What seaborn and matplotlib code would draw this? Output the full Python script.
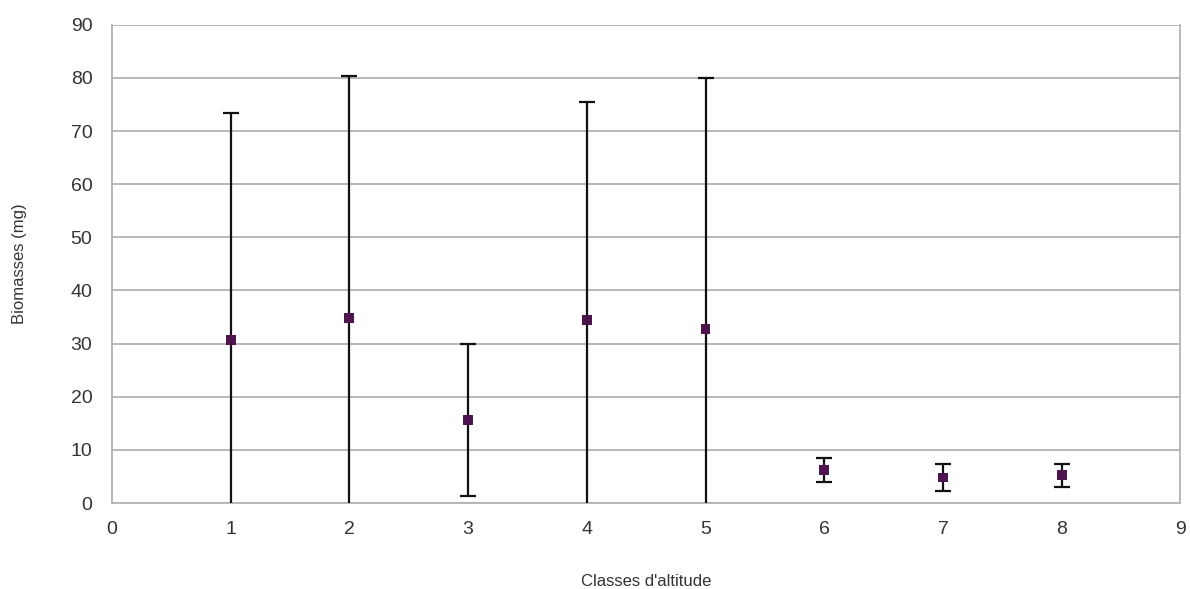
import numpy as np
import pandas as pd
import seaborn as sns
import matplotlib.pyplot as plt

# Altitude classes and mean biomass with error (symmetric)
classes = [1, 2, 3, 4, 5, 6, 7, 8]
biomass = [30.7, 34.8, 15.6, 34.5, 32.8, 6.2, 4.8, 5.2]
errors = [42.6, 45.5, 14.3, 40.9, 47.2, 2.2, 2.5, 2.1]

df = pd.DataFrame({'Classe': classes, 'Biomasse': biomass, 'Err': errors})

sns.set_style('white')
plt.rcParams['font.family'] = ['Liberation Sans', 'DejaVu Sans']

fig = plt.figure(figsize=(11.9, 5.89), dpi=100)
ax = fig.add_axes([0.094, 0.146, 0.898, 0.812])

# Error bars
ax.errorbar(df['Classe'], df['Biomasse'], yerr=df['Err'], fmt='none',
            ecolor='#111111', elinewidth=1.6, capsize=5.5, capthick=1.6,
            zorder=3)
# Points
sns.scatterplot(x='Classe', y='Biomasse', data=df, ax=ax, marker='s',
                s=50, color='#4e1450', edgecolor='none', zorder=4)

ax.set_xlim(0, 9)
ax.set_ylim(0, 90)
ax.set_xticks(range(0, 10))
ax.set_yticks(range(0, 100, 10))
ax.yaxis.grid(True, color='#b3b3b3', linewidth=1.3)
ax.set_axisbelow(True)

for s in ['left', 'right', 'bottom']:
    ax.spines[s].set_color('#b3b3b3')
    ax.spines[s].set_linewidth(1.3)
ax.spines['top'].set_visible(False)

ax.tick_params(axis='both', which='both', direction='out', length=8,
               width=1.3, color='#b3b3b3', labelsize=14, labelcolor='#333333')
ax.tick_params(axis='x', pad=5)
ax.tick_params(axis='y', pad=4, length=10)

ax.set_xlabel("Classes d'altitude", fontsize=12, color='#333333', labelpad=26)
ax.set_ylabel('Biomasses (mg)', fontsize=12, color='#333333', labelpad=31)

plt.savefig('out.png', dpi=100)
